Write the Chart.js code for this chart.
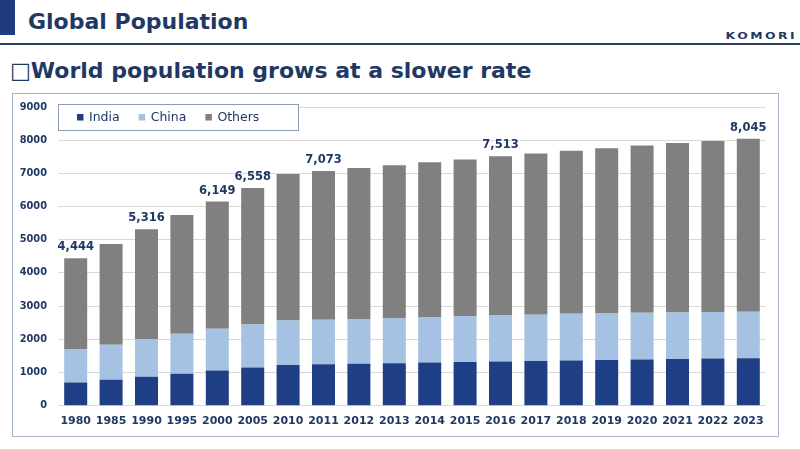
<!DOCTYPE html>
<html>
<head>
<meta charset="utf-8">
<script src="https://cdn.jsdelivr.net/npm/chart.js@4/dist/chart.umd.min.js"></script>
<style>
  html, body { margin:0; padding:0; background:#fff; }
  body { width:800px; height:449px; position:relative; overflow:hidden; font-family:"DejaVu Sans", sans-serif; }
  #bar { position:absolute; left:0; top:0; width:15px; height:35px; background:#1F3C7E; }
  #title { position:absolute; left:28px; top:11px; font:bold 22px/22px "DejaVu Sans"; color:#1F3864; white-space:nowrap; }
  #rule { position:absolute; left:0; top:43px; width:800px; height:2px; background:#2B3F63; }
  #logo { position:absolute; right:3px; top:33px; font:8px/8px "DejaVu Sans"; font-weight:600; color:#1F3864; letter-spacing:1.6px; white-space:nowrap; transform:scaleX(1.55); transform-origin:right center; }
  #sub { position:absolute; left:10px; top:60px; font:bold 22px/22px "DejaVu Sans"; color:#1F3864; white-space:nowrap; }
  #sub .box { font-weight:normal; }
  #frame { position:absolute; left:12px; top:93px; width:765px; height:342px; border:1.5px solid #A6B5CA; }
  #wrap { position:absolute; left:0; top:0; width:800px; height:449px; }
</style>
</head>
<body>
<div id="bar"></div>
<div id="title">Global Population</div>
<div id="rule"></div>
<div id="logo">KOMORI</div>
<div id="sub"><span class="box">□</span>World population grows at a slower rate</div>
<div id="frame"></div>
<div id="wrap"><canvas id="c" width="800" height="449"></canvas></div>
<script>
const years = ['1980','1985','1990','1995','2000','2005','2010','2011','2012','2013','2014','2015','2016','2017','2018','2019','2020','2021','2022','2023'];
const india  = [700, 780, 870, 960,1060,1150,1230,1250,1265,1280,1300,1320,1330,1350,1360,1380,1390,1410,1420,1430];
const china  = [990,1060,1130,1210,1260,1300,1340,1340,1345,1360,1370,1380,1390,1390,1410,1410,1410,1400,1400,1400];
const others = [2754,3030,3316,3575,3829,4108,4415,4483,4550,4605,4665,4720,4793,4860,4910,4970,5040,5105,5155,5215];
const labeledYears = ['1980','1990','2000','2005','2011','2016','2023'];
const yTicks = [0,1000,2000,3000,4000,5000,6000,7000,8000,9000];

const NAVY = '#1F3864';

const totalLabels = {
  id: 'totalLabels',
  afterDatasetsDraw(chart) {
    const ctx = chart.ctx;
    const xs = chart.scales.x, ys = chart.scales.y;
    ctx.save();
    ctx.font = 'bold 11.5px "DejaVu Sans"';
    ctx.fillStyle = NAVY;
    ctx.textAlign = 'center';
    ctx.textBaseline = 'alphabetic';
    years.forEach((yr, i) => {
      if (!labeledYears.includes(yr)) return;
      const total = chart.data.datasets.reduce((s, d) => s + d.data[i], 0);
      const x = xs.getPixelForValue(i);
      const y = ys.getPixelForValue(total);
      ctx.fillText(total.toLocaleString('en-US'), x, y - 8);
    });
    ctx.restore();
  }
};

const boxLegend = {
  id: 'boxLegend',
  afterDraw(chart) {
    const ctx = chart.ctx;
    const a = chart.chartArea;
    const left = a.left, top = a.top - 3, w = 240, h = 26;
    ctx.save();
    ctx.fillStyle = '#fff';
    ctx.fillRect(left, top, w, h);
    ctx.strokeStyle = '#8D9DB6';
    ctx.lineWidth = 1;
    ctx.strokeRect(left + 0.5, top + 0.5, w, h);
    ctx.font = '12.5px "DejaVu Sans"';
    ctx.textBaseline = 'middle';
    let x = left + 19;
    const cy = top + h / 2;
    chart.data.datasets.forEach(ds => {
      ctx.fillStyle = ds.backgroundColor;
      ctx.fillRect(x, cy - 3, 6.5, 6.5);
      ctx.fillStyle = NAVY;
      ctx.fillText(ds.label, x + 12, cy + 1);
      x += 12 + ctx.measureText(ds.label).width + 19;
    });
    ctx.restore();
  }
};

new Chart(document.getElementById('c'), {
  type: 'bar',
  data: {
    labels: years,
    datasets: [
      { label: 'India',  data: india,  backgroundColor: '#1E3E86' },
      { label: 'China',  data: china,  backgroundColor: '#A6C2E2' },
      { label: 'Others', data: others, backgroundColor: '#808080' }
    ]
  },
  options: {
    responsive: false,
    animation: false,
    devicePixelRatio: 1,
    layout: { padding: { left: 0, right: 34, top: 107, bottom: 0 } },
    datasets: { bar: { barPercentage: 0.65, categoryPercentage: 1.0 } },
    plugins: { legend: { display: false }, tooltip: { enabled: false } },
    scales: {
      x: {
        stacked: true,
        grid: { display: false, drawTicks: false },
        border: { display: false },
        ticks: { color: NAVY, font: { family: 'DejaVu Sans', size: 11, weight: 'bold' }, padding: 9, maxRotation: 0, autoSkip: false },
        afterFit(s) { s.height = 43.3; }
      },
      y: {
        stacked: true,
        min: 0, max: 9000,
        afterBuildTicks(s) { s.ticks = yTicks.map(v => ({ value: v })); },
        grid: { color: '#D9D9D9', lineWidth: 1, drawTicks: false },
        border: { display: false },
        ticks: { color: NAVY, font: { family: 'DejaVu Sans', size: 9.8, weight: 'bold' }, padding: 11, callback: v => String(v) },
        afterFit(s) { s.width = 58; }
      }
    }
  },
  plugins: [totalLabels, boxLegend]
});
</script>
</body>
</html>
